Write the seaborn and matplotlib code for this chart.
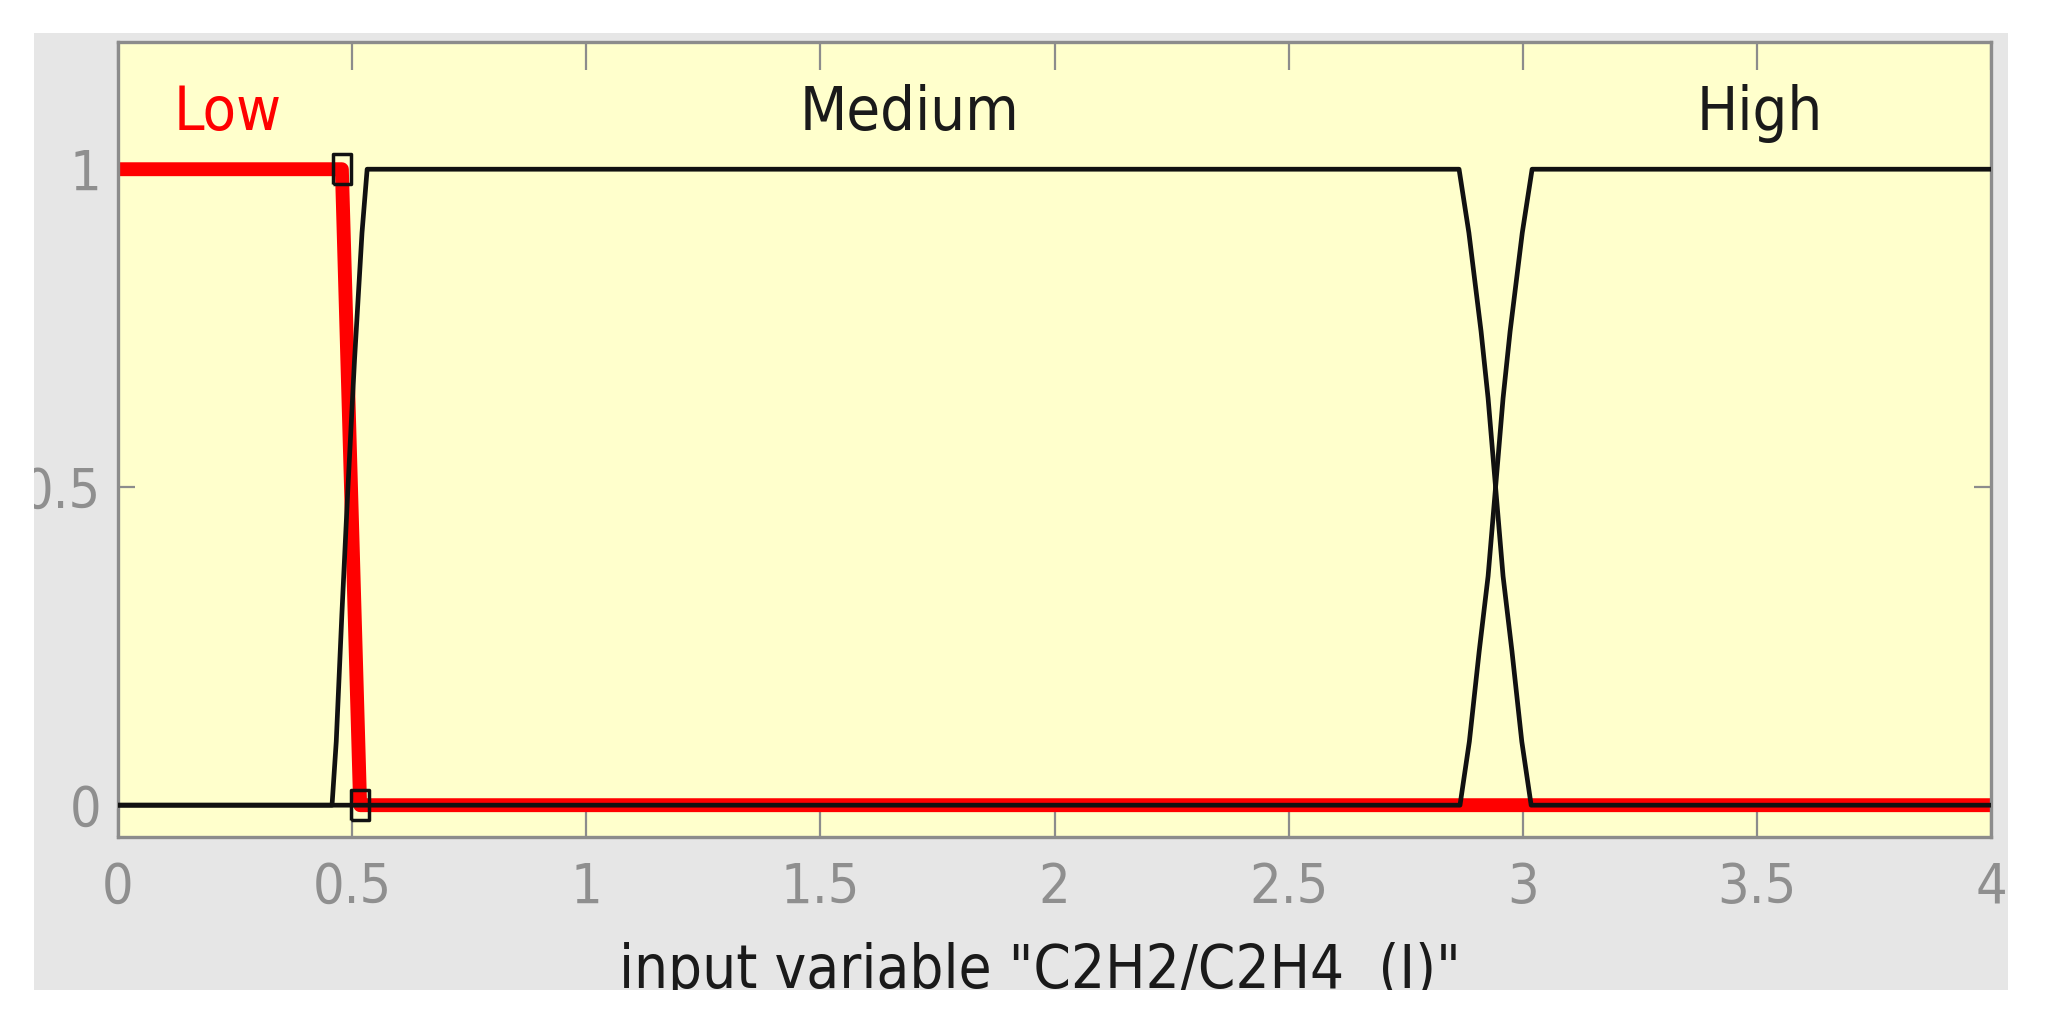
import numpy as np
import pandas as pd
import seaborn as sns
import matplotlib.pyplot as plt
from matplotlib.patches import Rectangle
from matplotlib import font_manager as fm

# membership functions of input variable C2H2/C2H4
low_x = [0.0, 0.478, 0.517, 4.0]
low_y = [1.0, 1.0, 0.0, 0.0]

medium_x = [0.0, 0.457, 0.466, 0.478, 0.491, 0.505, 0.521, 0.532,
            2.864, 2.885, 2.911, 2.926, 2.942, 2.958, 2.977, 2.998, 3.018, 4.0]
medium_y = [0.0, 0.0, 0.1, 0.3, 0.5, 0.7, 0.9, 1.0,
            1.0, 0.9, 0.745, 0.64, 0.5, 0.36, 0.242, 0.1, 0.0, 0.0]

high_x = [0.0, 2.866, 2.886, 2.907, 2.926, 2.942, 2.958, 2.973, 2.999, 3.02, 4.0]
high_y = [0.0, 0.0, 0.1, 0.242, 0.36, 0.5, 0.64, 0.745, 0.9, 1.0, 1.0]

mf_names = ['Low', 'Medium', 'High']
label_x = [0.234, 1.69, 3.506]
label_colors = ['#ff0000', '#1a1a1a', '#1a1a1a']

x_ticks = [0, 0.5, 1, 1.5, 2, 2.5, 3, 3.5, 4]
x_ticklabels = ['0', '0.5', '1', '1.5', '2', '2.5', '3', '3.5', '4']
y_ticks = [0, 0.5, 1]
y_ticklabels = ['0', '0.5', '1']

sns.set_theme(style='white')
names = {f.name for f in fm.fontManager.ttflist}
if 'Liberation Sans Narrow' in names:
    plt.rcParams['font.family'] = ['Liberation Sans Narrow', 'DejaVu Sans']
    stretch = 'normal'
else:
    plt.rcParams['font.family'] = ['DejaVu Sans']
    stretch = 'condensed'
plt.rcParams['font.stretch'] = stretch

fig = plt.figure(figsize=(20.46, 10.30), dpi=100, facecolor='white')
# grey panel behind the axes
fig.add_artist(Rectangle((0.0166, 0.0388), 0.9648, 0.929, transform=fig.transFigure,
                         facecolor='#e6e6e6', edgecolor='none', zorder=-5))
ax = fig.add_axes([0.0577, 0.1874, 0.9154, 0.7718])
ax.set_facecolor('#ffffcc')

low_df = pd.DataFrame({'x': low_x, 'y': low_y})
med_df = pd.DataFrame({'x': medium_x, 'y': medium_y})
high_df = pd.DataFrame({'x': high_x, 'y': high_y})

sns.lineplot(data=low_df, x='x', y='y', color='#ff0000', lw=10, sort=False,
             estimator=None, ax=ax, zorder=2)
sns.lineplot(data=med_df, x='x', y='y', color='#111111', lw=3.4, sort=False,
             estimator=None, ax=ax, zorder=3)
sns.lineplot(data=high_df, x='x', y='y', color='#111111', lw=3.4, sort=False,
             estimator=None, ax=ax, zorder=3)

# hollow handles on the selected (Low) function
rect_marker = [(-19, -30), (19, -30), (19, 30), (-19, 30), (-19, -30)]
ax.plot([low_x[1], low_x[2]], [low_y[1], low_y[2]], ls='none', marker=rect_marker,
        ms=21.5, mfc='none', mec='#111111', mew=2.5, zorder=4)

for name, lx, c in zip(mf_names, label_x, label_colors):
    ax.text(lx, 1.062, name, color=c, fontsize=44, ha='center', va='baseline',
            fontstretch=stretch)

ax.set_xlim(0, 4)
ax.set_ylim(-0.05, 1.2)
ax.set_xticks(x_ticks)
ax.set_xticklabels(x_ticklabels)
ax.set_yticks(y_ticks)
ax.set_yticklabels(y_ticklabels)
ax.tick_params(axis='x', direction='in', length=20, width=1.6, color='#8c8c8c',
               labelcolor='#8f8f8f', labelsize=40, pad=17, top=True, bottom=True)
ax.tick_params(axis='y', direction='in', length=12, width=1.6, color='#8c8c8c',
               labelcolor='#8f8f8f', labelsize=40, pad=12, left=True, right=True)
for s in ax.spines.values():
    s.set_color('#8c8c8c')
    s.set_linewidth(2.4)
ax.set_xlabel('')
ax.set_ylabel('')
ax.set_xlabel('input variable "C2H2/C2H4  (I)"', fontsize=43, color='#1a1a1a',
              va='baseline', fontstretch=stretch)
ax.xaxis.set_label_coords(0.492, -0.19)

# white frame round the grey panel (cuts the axis label like the original)
for r in [(0, 0, 1, 0.0388), (0, 0, 0.0166, 1), (0.9814, 0, 0.0186, 1), (0, 0.9678, 1, 0.0322)]:
    fig.add_artist(Rectangle(r[:2], r[2], r[3], transform=fig.transFigure,
                             facecolor='white', edgecolor='none', zorder=10))

fig.savefig('out.png', dpi=100)
